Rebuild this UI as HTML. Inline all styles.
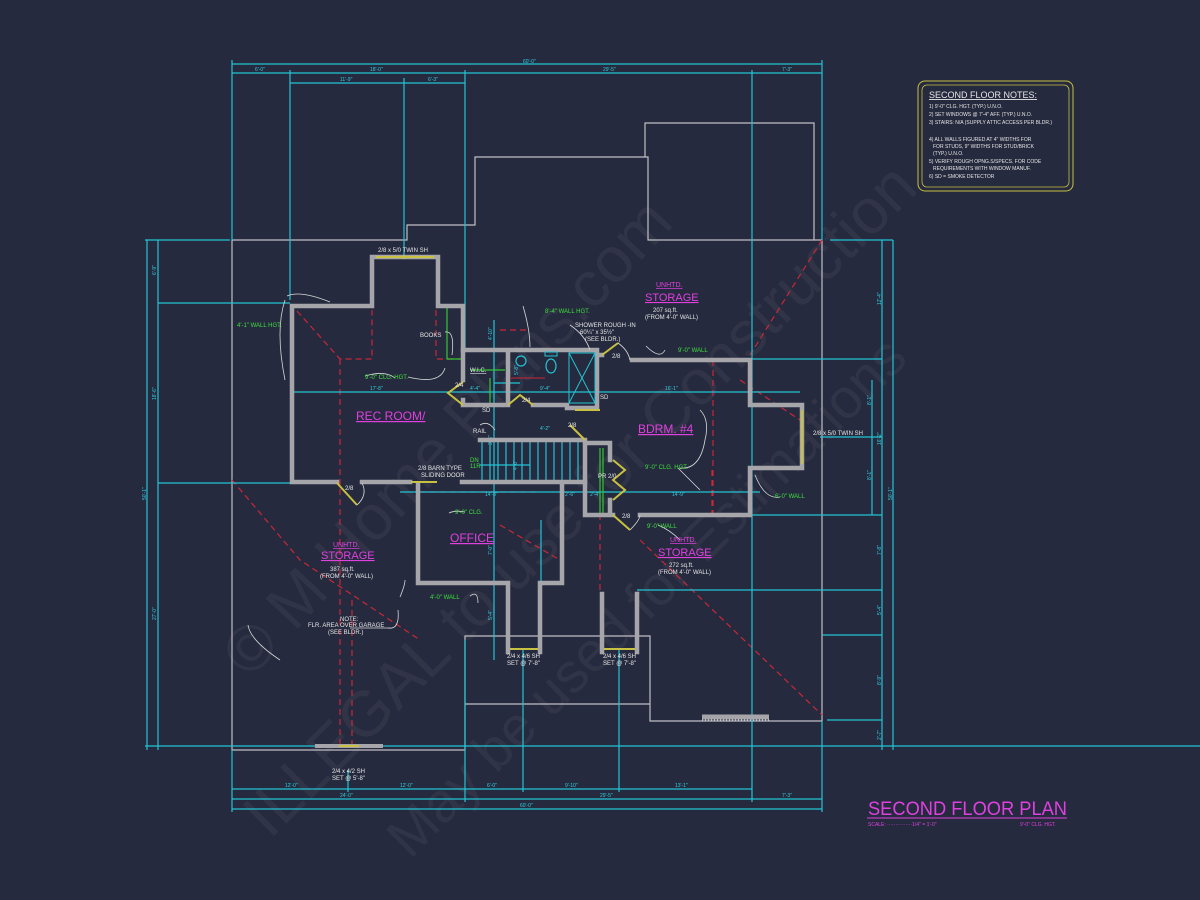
<!DOCTYPE html>
<html><head><meta charset="utf-8"><style>
html,body{margin:0;padding:0;background:#262a3e;}
svg{display:block;}
text{font-family:"Liberation Sans",sans-serif;}
.w{fill:none;stroke:#a6a6aa;stroke-width:4.5;stroke-linecap:square;}
.g{fill:none;stroke:#bfbfc4;stroke-width:1.2;}
.c{fill:none;stroke:#22c4d4;stroke-width:1.2;}
.r{fill:none;stroke:#c82838;stroke-width:1.2;stroke-dasharray:6 4;}
.y{fill:none;stroke:#c8c040;stroke-width:2;}
.gr{fill:none;stroke:#30c830;stroke-width:1.2;}
.tw{fill:#e6e6e6;font-size:6px;}
.tg{fill:#3de03d;font-size:6px;}
.tm{fill:#e040e0;}
.ld{fill:none;stroke:#d8d8d8;stroke-width:0.8;}
</style></head><body>
<svg width="1200" height="900" viewBox="0 0 1200 900" xmlns="http://www.w3.org/2000/svg">
<rect width="1200" height="900" fill="#262a3e"/>

<!-- watermark -->
<g fill="#ffffff" fill-opacity="0.05" font-family="Liberation Serif,serif">
<text x="0" y="0" font-size="64" transform="translate(250,680) rotate(-47)">© M Home Plans.com</text>
<text x="0" y="0" font-size="64" transform="translate(270,840) rotate(-45)">ILLEGAL to use for Construction</text>
<text x="0" y="0" font-size="56" transform="translate(410,860) rotate(-45)">May be used for Estimations</text>
</g>

<!-- building outline (thin grey) -->
<path class="g" d="M232,240 L407,240 L407,225 L475,225 L475,157 L648,157 L648,240 L822,240 L822,721 L650,721 L650,636 L465,636 L465,750 L232,750 Z"/>
<path class="g" d="M645,157 L645,123 L814,123 L814,240"/>
<path class="g" d="M465,704 L650,704"/>

<!-- red dashed -->
<path class="r" d="M297,311 L340,359 L372,359 L372,310 M436,310 L436,359 L463,359 M340,359 L340,745 M352,600 L352,745 M822,240 L750,355 M713,360 L713,515 M712,470 L712,515 M232,480 L300,560 L420,640 M640,540 L822,715 M600,590 L600,515 M420,492 L540,492 M500,330 L530,330"/>
<path class="r" d="M740,380 L800,420 M500,525 L560,560"/>

<!-- dims -->
<g class="c">
<path d="M232,64 L822,64 M232,73 L822,73 M290,83 L465,83"/>
<path d="M232,60 L232,240 M290,70 L290,300 M404,78 L404,255 M465,70 L465,352 M752,70 L752,780 M822,60 L822,240"/>
<path d="M147,240 L147,750 M158,240 L158,750 M145,240 L230,240 M158,303 L290,303 M158,483 L290,483 M145,746 L1200,746"/>
<path d="M893,240 L893,750 M882,240 L882,750 M872,380 L872,515 M830,240 L893,240 M752,359 L882,359 M820,437 L882,437 M752,515 L882,515 M752,590 L882,590 M637,590 L752,590 M822,635 L882,635 M827,720 L882,720"/>
<path d="M232,789 L752,789 M232,799 L822,799 M232,809 L822,809"/>
<path d="M232,750 L232,812 M348,770 L348,792 M465,640 L465,802 M523,650 L523,792 M619,650 L619,792 M752,780 L752,802 M822,721 L822,812"/>
<path d="M292,392 L800,392 M400,492 L760,492"/>
<path d="M494,320 L494,660 M541,520 L541,590 M494,383 L520,383"/>
</g>
<g fill="#2fd0e0" font-size="5" font-family="Liberation Sans,sans-serif">
<text x="523" y="63">60'-0"</text><text x="255" y="71">6'-0"</text><text x="370" y="71">18'-0"</text><text x="603" y="71">29'-5"</text><text x="782" y="71">7'-3"</text>
<text x="340" y="81">11'-9"</text><text x="428" y="81">6'-3"</text>
<text x="285" y="787">12'-0"</text><text x="400" y="787">12'-0"</text><text x="487" y="787">6'-0"</text><text x="565" y="787">9'-10"</text><text x="675" y="787">13'-1"</text>
<text x="340" y="797">24'-0"</text><text x="600" y="797">29'-5"</text><text x="782" y="797">7'-3"</text><text x="520" y="807">60'-0"</text>
<text x="370" y="390">17'-8"</text><text x="470" y="390">4'-4"</text><text x="540" y="390">9'-4"</text><text x="665" y="390">16'-1"</text>
<text x="485" y="496">14'-8"</text><text x="565" y="496">2'-6"</text><text x="590" y="496">2'-4"</text><text x="672" y="496">14'-9"</text>
<text x="540" y="430">4'-2"</text>
</g>
<g fill="#2fd0e0" font-size="5" font-family="Liberation Sans,sans-serif">
<text transform="translate(156,275) rotate(-90)">6'-9"</text>
<text transform="translate(156,400) rotate(-90)">18'-6"</text>
<text transform="translate(146,500) rotate(-90)">50'-1"</text>
<text transform="translate(156,620) rotate(-90)">27'-0"</text>
<text transform="translate(881,305) rotate(-90)">12'-4"</text>
<text transform="translate(871,405) rotate(-90)">8'-1"</text>
<text transform="translate(871,480) rotate(-90)">8'-1"</text>
<text transform="translate(881,445) rotate(-90)">16'-2"</text>
<text transform="translate(892,500) rotate(-90)">50'-1"</text>
<text transform="translate(881,555) rotate(-90)">7'-8"</text>
<text transform="translate(881,615) rotate(-90)">5'-4"</text>
<text transform="translate(881,685) rotate(-90)">8'-9"</text>
<text transform="translate(881,740) rotate(-90)">2'-7"</text>
<text transform="translate(492,340) rotate(-90)">4'-10"</text>
<text transform="translate(518,375) rotate(-90)">5'-8"</text>
<text transform="translate(492,445) rotate(-90)">3'-6"</text>
<text transform="translate(517,470) rotate(-90)">4'-0"</text>
<text transform="translate(492,555) rotate(-90)">7'-0"</text>
<text transform="translate(492,620) rotate(-90)">5'-4"</text>
</g>

<!-- stairs -->
<g class="c">
<path d="M482,440 L482,483 M490,440 L490,483 M498,440 L498,483 M506,440 L506,483 M514,440 L514,483 M522,440 L522,483 M530,440 L530,483 M538,440 L538,483 M546,440 L546,483 M554,440 L554,483 M562,440 L562,483 M570,440 L570,483 M578,440 L578,483"/>
<path d="M480,440 L585,440 M480,465 L530,465"/>
</g>

<!-- green lines -->
<path class="gr" d="M447,308 L447,359 L463,359 M470,370 L505,370 M490,378 L490,405 M600,448 L600,515 M603,448 L603,515"/>

<!-- walls -->
<path class="w" d="M337,482 L292,482 L292,306 L372,306 L372,257 L438,257 L438,306 L463,306 L463,380"/>
<path class="w" d="M463,400 L463,405 L508,405 L508,350 L597,350 L597,408 L567,408 M463,350 L508,350 M533,405 L567,405"/>
<path class="w" d="M362,482 L410,482 M462,482 L585,482"/>
<path class="w" d="M632,360 L750,360 L750,405 L802,405 L802,468 L750,468 L750,515 L640,515 M613,515 L585,515 L585,443 L610,443 L610,460 M610,500 L610,515"/>
<path class="w" d="M480,440 L585,440"/>
<path class="w" d="M418,484 L418,583 L508,583 L508,652 M540,652 L540,583 L562,583 L562,484"/>
<path class="w" d="M602,652 L602,594 M637,652 L637,594"/>
<path class="w" d="M597,355 L602,355"/>
<rect x="315" y="744" width="68" height="4" fill="#a6a6aa"/>
<path d="M702,717 L769,717" stroke="#a6a6aa" stroke-width="5"/>
<path d="M702,720 L769,720" stroke="#d0d0d0" stroke-width="1" stroke-dasharray="1 2"/>

<!-- windows -->
<g class="y">
<path d="M376,257 L434,257 M404,255 L404,259"/>
<path d="M802,410 L802,464"/>
<path d="M510,649 L538,649"/>
<path d="M604,649 L635,649"/>
<path d="M339,746 L359,746"/>
<path d="M411,482 L437,482"/>
</g>
<!-- shower/toilet -->
<path d="M569,353 L595,353 L595,403 L569,403 Z M569,353 L595,403 M595,353 L569,403" fill="none" stroke="#22c4d4" stroke-width="1"/>
<circle cx="521" cy="361" r="5" fill="none" stroke="#22c4d4" stroke-width="1.2"/>
<ellipse cx="551" cy="366" rx="5" ry="7" fill="none" stroke="#22c4d4" stroke-width="1.2"/>
<rect x="545" y="352" width="12" height="4" fill="none" stroke="#22c4d4"/>
<path d="M510,378 L545,378" stroke="#c82838" stroke-width="1"/>

<!-- doors -->
<g class="y">
<path d="M337,483 L357,505"/><path d="M463,382 L448,393 L463,405"/>
<path d="M533,405 L520,395 L508,405"/><path d="M602,355 L618,343"/>
<path d="M570,425 L585,440"/><path d="M613,460 L625,470 L613,480 L625,490 L613,500"/>
<path d="M613,515 L630,530"/><path d="M575,410 L600,410"/>
</g>
<g class="ld">
<path d="M357,505 Q368,495 362,483"/><path d="M630,530 Q640,520 640,515"/>
<path d="M618,343 Q628,350 630,360"/>
</g>

<!-- leaders -->
<g class="ld">
<path d="M287,296 Q300,290 330,302"/><path d="M285,300 Q275,330 285,380"/>
<path d="M365,376 Q385,370 395,378 M408,377 Q440,385 445,368"/>
<path d="M445,332 Q455,330 452,355"/>
<path d="M523,306 Q530,330 530,347"/>
<path d="M570,325 Q585,335 590,350"/>
<path d="M646,346 Q660,360 665,350"/>
<path d="M680,468 Q700,470 705,440 Q710,420 700,410"/>
<path d="M678,468 Q690,480 700,490"/>
<path d="M755,475 Q765,500 780,497"/>
<path d="M658,525 Q670,530 680,540"/>
<path d="M449,513 Q455,510 465,512"/>
<path d="M470,596 Q478,590 478,603"/>
<path d="M398,610 Q400,630 388,628 M400,597 Q405,585 405,580"/>
<path d="M248,625 Q250,640 280,660 M350,628 L390,628"/>
<path d="M480,425 Q488,420 495,430"/>
</g>

<!-- labels -->
<text class="tw" x="378" y="252">2/8 x 5/0 TWIN SH</text>
<text class="tg" x="237" y="327">4'-1" WALL HGT.</text>
<text class="tw" x="420" y="337">BOOKS</text>
<text class="tg" x="365" y="379">9'-0" CLG. HGT.</text>
<text class="tw" x="470" y="372" font-size="8" text-decoration="underline">W.I.C.</text>
<text class="tw" x="455" y="387">2/4</text><text class="tw" x="522" y="402">2/4</text>
<text class="tw" x="482" y="412" font-size="5">SD</text><text class="tw" x="600" y="399" font-size="5">SD</text>
<text class="tg" x="545" y="313">8'-4" WALL HGT.</text>
<text class="tw" x="575" y="327">SHOWER ROUGH -IN</text>
<text class="tw" x="580" y="334">60¼" x 35½"</text>
<text class="tw" x="585" y="341">(SEE BLDR.)</text>
<text class="tw" x="612" y="358">2/8</text>
<text class="tw" x="568" y="427">2/8</text>
<text class="tw" x="473" y="433">RAIL</text>
<text class="tm" x="356" y="420" font-size="12" text-decoration="underline">REC ROOM/</text>
<text class="tm" x="638" y="433" font-size="12" text-decoration="underline">BDRM. #4</text>
<text class="tm" x="656" y="287" font-size="7" text-decoration="underline">UNHTD.</text>
<text class="tm" x="645" y="301" font-size="11" text-decoration="underline">STORAGE</text>
<text class="tw" x="653" y="312" font-size="8">207 sq.ft.</text>
<text class="tw" x="645" y="319">(FROM 4'-0" WALL)</text>
<text class="tg" x="678" y="352">9'-0" WALL</text>
<text class="tw" x="813" y="435">2/8 x 5/0 TWIN SH</text>
<text class="tg" x="470" y="462" font-size="5">DN</text><text class="tg" x="470" y="468" font-size="5">11R</text>
<text class="tw" x="418" y="470">2/8 BARN TYPE</text>
<text class="tw" x="421" y="477">SLIDING DOOR</text>
<text class="tw" x="598" y="478">PR 2/0</text>
<text class="tg" x="645" y="469">9'-0" CLG. HGT.</text>
<text class="tg" x="775" y="498">6'-0" WALL</text>
<text class="tw" x="345" y="490">2/8</text>
<text class="tw" x="622" y="518">2/8</text>
<text class="tg" x="647" y="528">9'-0" WALL</text>
<text class="tg" x="455" y="514">9'-0" CLG.</text>
<text class="tm" x="450" y="542" font-size="12" text-decoration="underline">OFFICE</text>
<text class="tm" x="670" y="542" font-size="7" text-decoration="underline">UNHTD.</text>
<text class="tm" x="658" y="556" font-size="11" text-decoration="underline">STORAGE</text>
<text class="tw" x="669" y="567" font-size="8">272 sq.ft.</text>
<text class="tw" x="658" y="574">(FROM 4'-0" WALL)</text>
<text class="tm" x="333" y="547" font-size="7" text-decoration="underline">UNHTD.</text>
<text class="tm" x="321" y="559" font-size="11" text-decoration="underline">STORAGE</text>
<text class="tw" x="330" y="571" font-size="8">387 sq.ft.</text>
<text class="tw" x="320" y="578">(FROM 4'-0" WALL)</text>
<text class="tg" x="430" y="599">4'-0" WALL</text>
<text class="tw" x="340" y="621">NOTE:</text>
<text class="tw" x="308" y="627">FLR. AREA OVER GARAGE</text>
<text class="tw" x="328" y="634">(SEE BLDR.)</text>
<text class="tw" x="507" y="658">2/4 x 4/6 SH</text><text class="tw" x="507" y="665">SET @ 7'-8"</text>
<text class="tw" x="603" y="658">2/4 x 4/6 SH</text><text class="tw" x="603" y="665">SET @ 7'-8"</text>
<text class="tw" x="332" y="773">2/4 x 4/2 SH</text><text class="tw" x="332" y="780">SET @ 5'-8"</text>

<!-- notes box -->
<rect x="918" y="81" width="155" height="110" rx="7" fill="none" stroke="#c8c040" stroke-width="1"/>
<rect x="922" y="85" width="147" height="102" rx="5" fill="none" stroke="#c8c040" stroke-width="0.8"/>
<text x="929" y="98" fill="#e6e6e6" font-size="9" text-decoration="underline">SECOND FLOOR NOTES:</text>
<g fill="#e6e6e6" font-size="5">
<text x="929" y="108">1) 9'-0" CLG. HGT. (TYP.) U.N.O.</text>
<text x="929" y="116">2) SET WINDOWS @ 7'-4" AFF. (TYP.) U.N.O.</text>
<text x="929" y="124">3) STAIRS: N/A (SUPPLY ATTIC ACCESS PER BLDR.)</text>
<text x="929" y="141">4) ALL WALLS FIGURED AT 4" WIDTHS FOR</text>
<text x="933" y="148">FOR STUDS, 9" WIDTHS FOR STUD/BRICK</text>
<text x="933" y="155">(TYP.) U.N.O.</text>
<text x="929" y="163">5) VERIFY ROUGH OPNG.S/SPECS. FOR CODE</text>
<text x="933" y="170">REQUIREMENTS WITH WINDOW MANUF.</text>
<text x="929" y="178">6) SD = SMOKE DETECTOR</text>
</g>

<!-- title -->
<text x="868" y="815" fill="#e040e0" font-size="19" textLength="199" lengthAdjust="spacingAndGlyphs">SECOND FLOOR PLAN</text>
<path d="M867,818 L1067,818" stroke="#e040e0" stroke-width="1"/>
<text x="868" y="826" fill="#e040e0" font-size="5">SCALE: ···············1/4" = 1'-0"</text>
<text x="1020" y="826" fill="#e040e0" font-size="5">9'-0" CLG. HGT.</text>
</svg>
</body></html>
